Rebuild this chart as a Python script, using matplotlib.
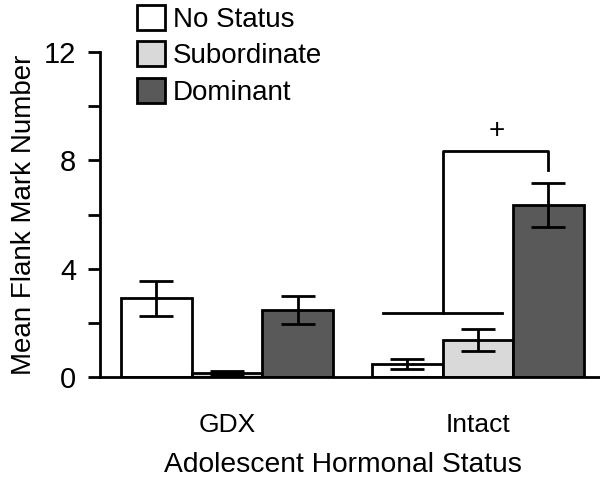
import matplotlib
matplotlib.use("Agg")
import matplotlib.pyplot as plt
from matplotlib.patches import Patch
import numpy as np

plt.rcParams['font.family'] = ['Liberation Sans', 'DejaVu Sans']

groups = ["GDX", "Intact"]
statuses = ["No Status", "Subordinate", "Dominant"]
means = {
    "No Status":   [2.9, 0.48],
    "Subordinate": [0.15, 1.37],
    "Dominant":    [2.47, 6.35],
}
errors = {
    "No Status":   [0.65, 0.18],
    "Subordinate": [0.06, 0.40],
    "Dominant":    [0.52, 0.80],
}
colors = {"No Status": "#ffffff", "Subordinate": "#d9d9d9", "Dominant": "#595959"}
yticks = [0, 4, 8, 12]

fig = plt.figure(figsize=(6.0, 4.82), dpi=100)
ax = fig.add_axes([100/600, 1-377/482, 500/600, (377-52)/482])

centers = np.array([0.0, 3.56])
w = 1.0
offsets = [-1, 0, 1]
for st, off in zip(statuses, offsets):
    ax.bar(centers + off*w, means[st], width=w, color=colors[st], edgecolor='black',
           linewidth=2, zorder=2)
    ax.errorbar(centers + off*w, means[st], yerr=errors[st], fmt='none', ecolor='black',
                elinewidth=2, capsize=12, capthick=2, zorder=3)

# significance bracket
c1 = centers[1]
ax.plot([c1 - 1.35, c1 + 0.34], [2.36, 2.36], color='black', lw=2, zorder=3)
ax.plot([c1 - 0.5, c1 - 0.5, c1 + 1, c1 + 1], [2.36, 8.34, 8.34, 7.64], color='black', lw=2, zorder=3)
ax.text(c1 + 0.26, 9.1, "+", ha='center', va='center', fontsize=20)

ax.set_xlim((100-227)/70.5, (600-227)/70.5)
ax.set_ylim(0, 12)
ax.set_yticks([0, 2, 4, 6, 8, 10, 12])
ax.set_yticklabels([str(t) if t in yticks else "" for t in [0, 2, 4, 6, 8, 10, 12]])
ax.set_xticks(centers)
ax.set_xticklabels(groups)
ax.tick_params(axis='x', length=0, pad=26, labelsize=19)
ax.tick_params(axis='y', length=9, width=2, pad=8, labelsize=21)
for s in ['top', 'right']:
    ax.spines[s].set_visible(False)
ax.spines['left'].set_linewidth(2)
ax.spines['bottom'].set_linewidth(2)
ax.set_xlabel("Adolescent Hormonal Status", fontsize=20.3)
ax.xaxis.set_label_coords(0.486, -0.232)
ax.xaxis.label.set_verticalalignment('top')
ax.set_ylabel("Mean Flank Mark Number", fontsize=20, labelpad=5)

handles = [Patch(facecolor=colors[s], edgecolor='black', linewidth=2) for s in statuses]
fig.legend(handles, statuses, loc='upper left', bbox_to_anchor=(134/600, 0.995),
           frameon=False, fontsize=20, handlelength=1.0, handleheight=1.0,
           handletextpad=0.3, labelspacing=0.3, borderaxespad=0, borderpad=0.1)

fig.savefig("out.png", dpi=100)
